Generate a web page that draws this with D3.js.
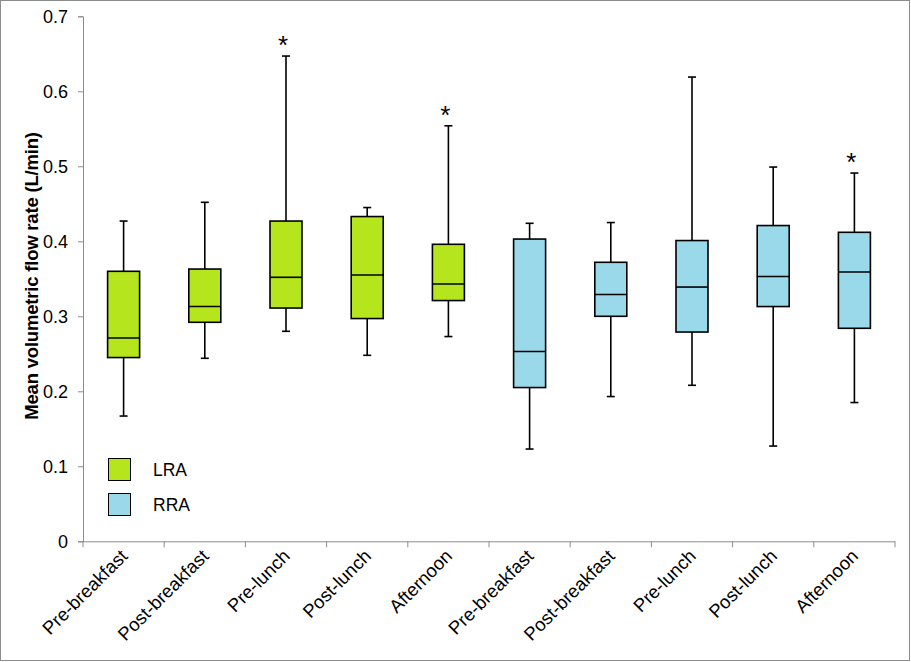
<!DOCTYPE html>
<html><head><meta charset="utf-8">
<script src="https://cdn.jsdelivr.net/npm/d3@7"></script>
<style>body{margin:0;background:#fff}svg{display:block;font-family:Arial,"Liberation Sans",sans-serif}</style>
</head><body><svg id="c" width="911" height="662"></svg>
<script>
const categories = ["Pre-breakfast","Post-breakfast","Pre-lunch","Post-lunch","Afternoon","Pre-breakfast","Post-breakfast","Pre-lunch","Post-lunch","Afternoon"];
const groups = ["LRA","LRA","LRA","LRA","LRA","RRA","RRA","RRA","RRA","RRA"];
const whiskerLow  = [0.167,0.244,0.280,0.248,0.273,0.123,0.193,0.208,0.127,0.185];
const q1          = [0.245,0.292,0.311,0.297,0.321,0.205,0.300,0.279,0.313,0.284];
const median      = [0.271,0.313,0.352,0.355,0.343,0.253,0.329,0.339,0.353,0.359];
const q3          = [0.360,0.363,0.427,0.433,0.396,0.403,0.372,0.401,0.421,0.412];
const whiskerHigh = [0.427,0.452,0.647,0.445,0.554,0.424,0.425,0.619,0.499,0.491];
const significant = [false,false,true,false,true,false,false,false,false,true];
const yTicks = [0,0.1,0.2,0.3,0.4,0.5,0.6,0.7];
const legendItems = ["LRA","RRA"];
const colors = {LRA:"#b5e61d", RRA:"#99d9ea"};

const svg = d3.select("#c");
svg.append("rect").attr("x",0.5).attr("y",0.5).attr("width",909).attr("height",660)
  .attr("fill","#fff").attr("stroke","#8c8c8c");

const pL=83, pR=895, pT=16.3, pB=541.3;
const idx = categories.map((d,i)=>i);
const x = d3.scaleBand().domain(idx).range([pL,pR]);
const y = d3.scaleLinear().domain([0,0.7]).range([pB,pT]);

// Y axis
const yAxis = svg.append("g").attr("transform",`translate(${pL},0)`)
  .call(d3.axisLeft(y).tickValues(yTicks).tickSize(5).tickPadding(10).tickFormat(d=>d===0?"0":d3.format(".1f")(d)));
yAxis.select(".domain").attr("stroke","#8c8c8c");
yAxis.selectAll(".tick line").attr("stroke","#8c8c8c");
yAxis.selectAll("text").attr("font-size",18).attr("fill","#000").attr("font-family","Arial, 'Liberation Sans', sans-serif");

// X axis
const xAxis = svg.append("g").attr("transform",`translate(0,${pB})`)
  .call(d3.axisBottom(x).tickSize(0).tickFormat(i=>categories[i]));
xAxis.select(".domain").attr("stroke","#8c8c8c").attr("d",`M${pL},0.5H${pR}`);
xAxis.selectAll(".tick line").remove();
const bnds = d3.range(categories.length+1).map(i=>pL+i*x.step());
xAxis.selectAll("line.sep").data(bnds).enter().append("line").attr("class","sep")
  .attr("x1",d=>d).attr("x2",d=>d).attr("y1",0).attr("y2",6).attr("stroke","#8c8c8c");
xAxis.selectAll(".tick text")
  .attr("font-size",18.5).attr("fill","#000").attr("font-family","Arial, 'Liberation Sans', sans-serif")
  .attr("text-anchor","end").attr("dy",null).attr("y",0)
  .attr("transform","translate(5,16) rotate(-45)");

// Y title
svg.append("text").attr("transform","translate(38,276) rotate(-90)")
  .attr("text-anchor","middle").attr("font-size",18.5).attr("font-weight","bold")
  .attr("letter-spacing",-0.2)
  .text("Mean volumetric flow rate (L/min)");

// boxes
const bw = 32, cap = 8;
const g = svg.append("g").attr("stroke","#000").attr("stroke-width",1.6);
idx.forEach(i=>{
  const cx = x(i)+x.bandwidth()/2;
  g.append("line").attr("x1",cx).attr("x2",cx).attr("y1",y(whiskerHigh[i])).attr("y2",y(q3[i]));
  g.append("line").attr("x1",cx).attr("x2",cx).attr("y1",y(q1[i])).attr("y2",y(whiskerLow[i]));
  g.append("line").attr("x1",cx-cap/2).attr("x2",cx+cap/2).attr("y1",y(whiskerHigh[i])).attr("y2",y(whiskerHigh[i]));
  g.append("line").attr("x1",cx-cap/2).attr("x2",cx+cap/2).attr("y1",y(whiskerLow[i])).attr("y2",y(whiskerLow[i]));
  g.append("rect").attr("x",cx-bw/2).attr("width",bw).attr("y",y(q3[i])).attr("height",y(q1[i])-y(q3[i]))
    .attr("fill",colors[groups[i]]);
  g.append("line").attr("x1",cx-bw/2).attr("x2",cx+bw/2).attr("y1",y(median[i])).attr("y2",y(median[i]));
  if(significant[i]){
    svg.append("text").attr("x",cx-3).attr("y",y(whiskerHigh[i])-2).attr("text-anchor","middle")
      .attr("font-size",26).text("*");
  }
});

// legend
const lg = svg.append("g");
legendItems.forEach((k,j)=>{
  const yy = 458 + j*35;
  lg.append("rect").attr("x",108.5).attr("y",yy+0.5).attr("width",22).attr("height",22)
    .attr("fill",colors[k]).attr("stroke","#000").attr("stroke-width",1);
  lg.append("text").attr("x",153).attr("y",yy+18).attr("font-size",17.5).text(k);
});
</script></body></html>
